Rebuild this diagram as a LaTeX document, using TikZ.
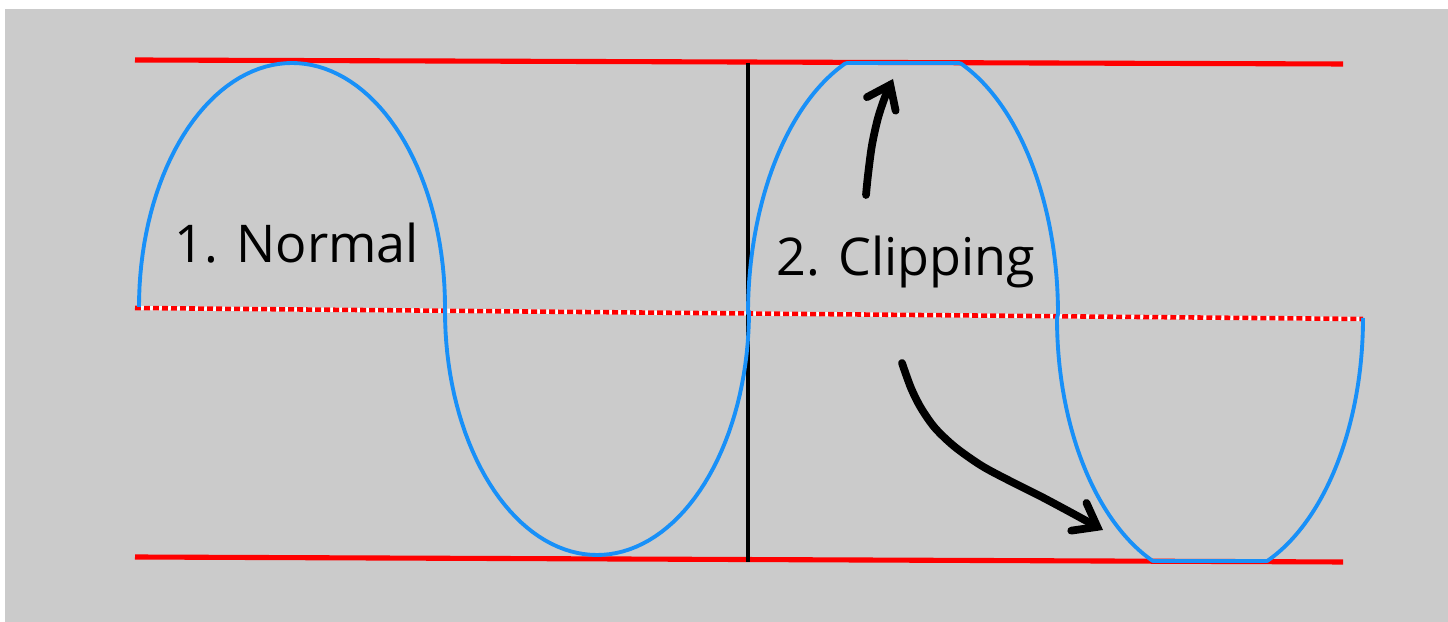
\documentclass[tikz,border=0pt]{standalone}
\usepackage{fontspec}
\setmainfont{Open Sans}
\usepackage{xcolor}
\usetikzlibrary{arrows.meta}
\definecolor{panelgray}{HTML}{CBCBCB}
\definecolor{waveblue}{HTML}{1890F8}

\begin{document}
\begin{tikzpicture}[
  x=0.01cm, y=-0.01cm,
  limit/.style = {red, line width=1.45pt},
  zeroline/.style = {red, line width=1.3pt, dash pattern=on 1.7pt off 0.86pt},
  wave/.style = {waveblue, line width=1.1pt, line join=round},
  divider/.style = {black, line width=1.4pt},
  scribble/.style = {black, line width=2.2pt, line cap=round, line join=round,
    -{Straight Barb[length=6pt, width=9pt, line cap=round]}},
  wavetitle/.style = {font=\fontsize{14.8}{18}\selectfont, anchor=base west, inner sep=0pt}
]
  \useasboundingbox (0,0) rectangle (1448,622);
  \fill[white] (0,0) rectangle (1448,622);
  \fill[panelgray] (5,9) rectangle (1448,622);

  \draw[limit] (135,60) -- (1343,64);
  \draw[limit] (135,557) -- (1343,562);
  \draw[white, line width=1.2pt] (135,308) -- (1363,319);
  \draw[zeroline] (135,308) -- (1363,319);
  \draw[divider] (748,63) -- (748,562);

  \draw[wave] plot[domain=0:180, samples=73] ({292-153*cos(\x)}, {307-244*sin(\x)})
    -- plot[domain=0:180, samples=73] ({597-152*cos(\x)}, {311+244*sin(\x)})
    -- plot[domain=0:180, samples=181] ({903-155*cos(\x)}, {max(314-270*sin(\x),63)})
    -- plot[domain=0:180, samples=181] ({1210-153*cos(\x)}, {min(318+262*sin(\x),561)});

  \draw[scribble] plot[smooth] coordinates {(866,195) (868,175) (872,145) (878,118) (885,97) (893,79)};
  \draw[scribble] plot[smooth] coordinates {(902,363) (911,388) (921,408) (935,428) (955,447)
    (982,466) (1012,482) (1040,496) (1070,512) (1103,530)};

  \node[wavetitle] (normal) at (174,263) {1. Normal};
  \node[wavetitle] (clipping) at (776,276) {2. Clipping};
\end{tikzpicture}
\end{document}
